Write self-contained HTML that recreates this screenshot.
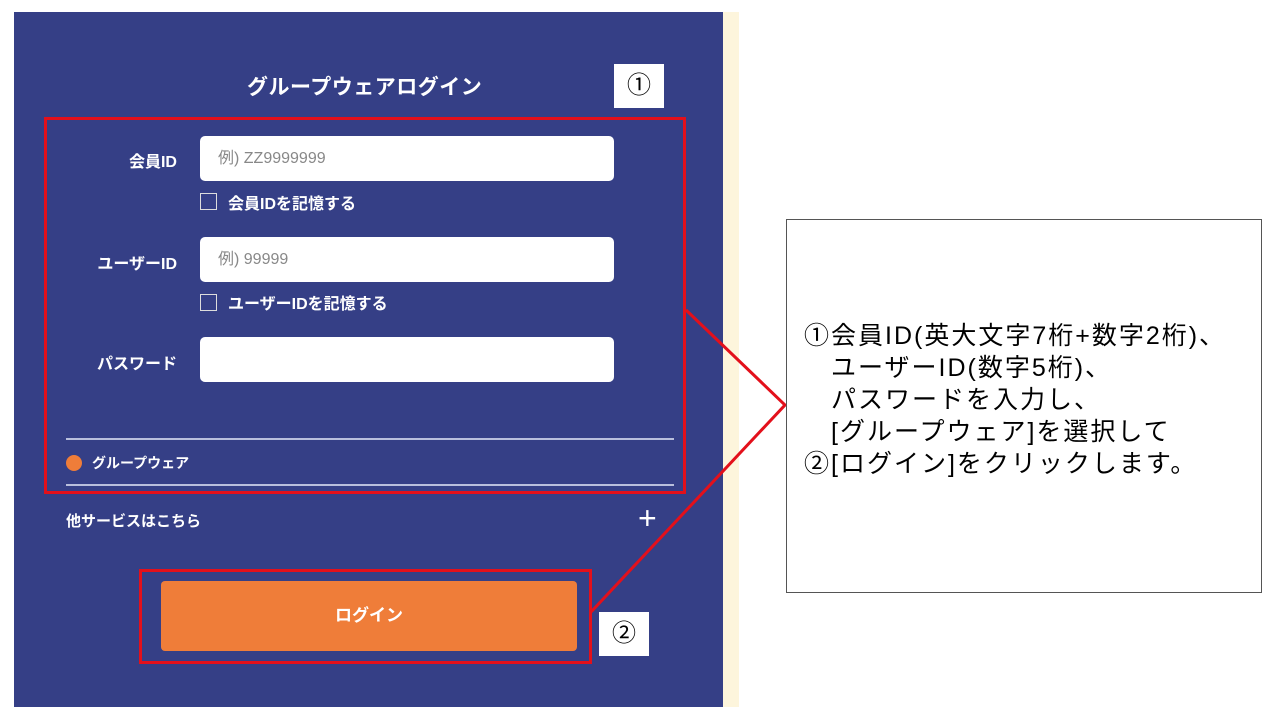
<!DOCTYPE html>
<html><head><meta charset="utf-8"><style>
body{margin:0;width:1280px;height:720px;background:#fff;position:relative;overflow:hidden;font-family:"Liberation Sans","Noto Sans CJK JP",sans-serif}
.a{position:absolute}
.panel{left:14px;top:12px;width:709px;height:695px;background:#353f86}
.cream{left:723px;top:12px;width:16px;height:695px;background:#fdf5dc}
.lbl{color:#fff;font-size:16px;text-align:right;width:120px;font-weight:bold}
.inp{background:#fff;border-radius:5px;width:414px;height:45px;left:200px;color:#888;font-size:16px;line-height:45px;box-sizing:border-box;padding-left:18px}
.cb{width:15px;height:15px;border:1.5px solid #ddd;left:200px}
.cbt{color:#fff;font-size:16px;left:228px;font-weight:bold}
.hr{left:66px;width:608px;height:2px;background:#b9bfdc}
.red{border:3px solid #e3101b;box-sizing:border-box}
.num{background:#fff;font-size:24px;text-align:center;line-height:36px}
</style></head><body>
<div class="a panel"></div><div class="a cream"></div>
<div class="a" style="left:247px;top:71px;color:#fff;font-size:21px;font-weight:bold;letter-spacing:0.5px">グループウェアログイン</div>
<div class="a num" style="left:614px;top:64px;width:50px;height:44px;line-height:44px">①</div>
<div class="a lbl" style="left:57px;top:148px">会員ID</div>
<div class="a inp" style="top:136px">例) ZZ9999999</div>
<div class="a cb" style="top:193px"></div><div class="a cbt" style="top:190px">会員IDを記憶する</div>
<div class="a lbl" style="left:57px;top:250px">ユーザーID</div>
<div class="a inp" style="top:237px">例) 99999</div>
<div class="a cb" style="top:294px"></div><div class="a cbt" style="top:290px">ユーザーIDを記憶する</div>
<div class="a lbl" style="left:57px;top:350px">パスワード</div>
<div class="a inp" style="top:337px"></div>
<div class="a hr" style="top:438px"></div>
<div class="a" style="left:66px;top:455px;width:16px;height:16px;border-radius:50%;background:#ef7d39"></div>
<div class="a" style="left:92px;top:453px;color:#fff;font-size:14px;font-weight:bold">グループウェア</div>
<div class="a hr" style="top:484px"></div>
<div class="a" style="left:66px;top:510px;color:#fff;font-size:15px;font-weight:bold">他サービスはこちら</div>
<div class="a" style="left:638px;top:500px;color:#fff;font-size:32px;line-height:36px">+</div>
<div class="a" style="left:161px;top:581px;width:416px;height:70px;background:#ef7d39;border-radius:4px;color:#fff;font-size:17px;font-weight:bold;text-align:center;line-height:70px">ログイン</div>
<div class="a red" style="left:44px;top:117px;width:642px;height:377px"></div>
<div class="a red" style="left:139px;top:569px;width:453px;height:95px"></div>
<div class="a num" style="left:599px;top:612px;width:50px;height:44px;line-height:44px">②</div>
<svg class="a" style="left:0;top:0" width="1280" height="720"><polyline points="686,310 785,405 591,612" fill="none" stroke="#e3101b" stroke-width="3"/></svg>
<div class="a" style="left:786px;top:219px;width:476px;height:374px;border:1px solid #555;box-sizing:border-box;background:#fff"></div>
<div class="a" style="left:804px;top:320px;font-size:25px;line-height:32px;letter-spacing:2px;color:#000;white-space:pre">①会員ID(英大文字7桁+数字2桁)、
　ユーザーID(数字5桁)、
　パスワードを入力し、
　[グループウェア]を選択して
②[ログイン]をクリックします。</div>
</body></html>
